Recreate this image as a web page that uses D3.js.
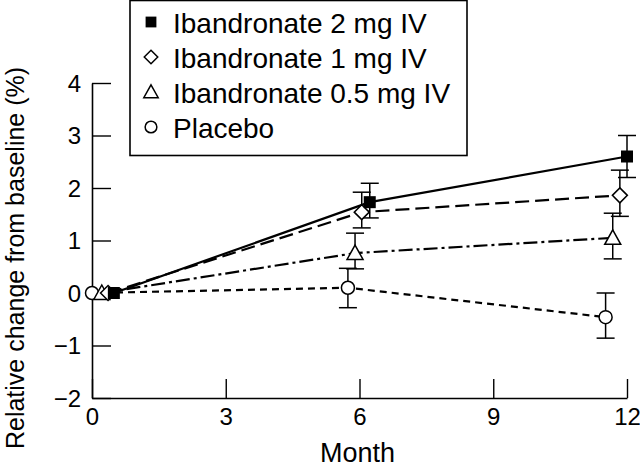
<!DOCTYPE html>
<html>
<head>
<meta charset="utf-8">
<script src="https://cdn.jsdelivr.net/npm/d3@7"></script>
<style>
  html, body { margin: 0; padding: 0; background: #fff; }
  svg { display: block; font-family: "Liberation Sans", Arial, sans-serif; }
</style>
</head>
<body>
<svg id="chart" width="640" height="469"></svg>
<script>
// ---- data ----
const seriesNames = ["Ibandronate 2 mg IV", "Ibandronate 1 mg IV", "Ibandronate 0.5 mg IV", "Placebo"];
const markerTypes = ["square", "diamond", "triangle", "circle"];
// plotted month positions (points are slightly offset for clarity)
const months2mg = [0.49, 6.23, 12.0];
const months1mg = [0.36, 6.05, 11.84];
const months05mg = [0.22, 5.9, 11.68];
const monthsPlacebo = [0.0, 5.74, 11.52];
const values2mg = [0, 1.73, 2.6];
const values1mg = [0, 1.54, 1.86];
const values05mg = [0, 0.76, 1.05];
const valuesPlacebo = [0, 0.1, -0.46];
// error bar ends (null = no error bar)
const errLow2mg = [null, 1.43, 2.2], errHigh2mg = [null, 2.09, 3.0];
const errLow1mg = [null, 1.24, 1.46], errHigh1mg = [null, 1.92, 2.34];
const errLow05mg = [null, 0.46, 0.65], errHigh05mg = [null, 1.14, 1.52];
const errLowPlacebo = [null, -0.28, -0.86], errHighPlacebo = [null, 0.47, 0.0];
const xTicks = [0, 3, 6, 9, 12];
const yTicks = [-2, -1, 0, 1, 2, 3, 4];
const xLabel = "Month";
const yLabel = "Relative change from baseline (%)";

const allMonths = [months2mg, months1mg, months05mg, monthsPlacebo];
const allValues = [values2mg, values1mg, values05mg, valuesPlacebo];
const allLow = [errLow2mg, errLow1mg, errLow05mg, errLowPlacebo];
const allHigh = [errHigh2mg, errHigh1mg, errHigh05mg, errHighPlacebo];
const dashes = [null, "14,6", "14,4,3,4", "7,5"];

const series = seriesNames.map((name, i) => ({
  name, marker: markerTypes[i], dash: dashes[i],
  points: allMonths[i].map((m, j) => ({ x: m, y: allValues[i][j], lo: allLow[i][j], hi: allHigh[i][j] }))
}));

// ---- layout ----
const svg = d3.select("#chart");
const x = d3.scaleLinear().domain([0, 12]).range([92, 627]);
const y = d3.scaleLinear().domain([-2, 4]).range([398, 83]);

// axes
const xAxis = d3.axisBottom(x).tickValues(xTicks).tickSizeInner(-19).tickSizeOuter(0).tickPadding(0).tickFormat(d3.format("d"));
const gx = svg.append("g").attr("transform", `translate(0,${y(-2)})`).call(xAxis);
gx.select(".domain").attr("stroke", "#000").attr("stroke-width", 1.6);
gx.selectAll(".tick line").attr("stroke", "#000").attr("stroke-width", 1.4);
gx.selectAll(".tick text").attr("font-size", 24).attr("fill", "#000").attr("dy", null).attr("y", 27);

const yAxis = d3.axisLeft(y).tickValues(yTicks).tickSizeInner(-19).tickSizeOuter(0).tickPadding(0)
  .tickFormat(d => d < 0 ? "\u2212" + Math.abs(d) : String(d));
const gy = svg.append("g").attr("transform", `translate(${x(0)},0)`).call(yAxis);
gy.select(".domain").attr("stroke", "#000").attr("stroke-width", 1.6);
gy.selectAll(".tick line").attr("stroke", "#000").attr("stroke-width", 1.4);
gy.selectAll(".tick text").attr("font-size", 24).attr("fill", "#000").attr("x", -11).attr("dy", "0.35em");

// axis titles
svg.append("text").attr("x", (x(0) + x(12)) / 2 - 2).attr("y", 462).attr("text-anchor", "middle")
  .attr("font-size", 27).attr("fill", "#000").text(xLabel);
svg.append("text").attr("transform", `translate(24,258) rotate(-90)`).attr("text-anchor", "middle")
  .attr("font-size", 25).attr("fill", "#000").text(yLabel);

// lines
const line = d3.line().x(d => x(d.x)).y(d => y(d.y));
series.forEach(s => {
  svg.append("path").datum(s.points).attr("d", line).attr("fill", "none")
    .attr("stroke", "#000").attr("stroke-width", 2.2)
    .attr("stroke-dasharray", s.dash);
});

// error bars
const capW = 9;
series.forEach(s => {
  s.points.filter(p => p.lo !== null).forEach(p => {
    const g = svg.append("g").attr("stroke", "#000").attr("stroke-width", 1.5);
    g.append("line").attr("x1", x(p.x)).attr("x2", x(p.x)).attr("y1", y(p.lo)).attr("y2", y(p.hi));
    g.append("line").attr("x1", x(p.x) - capW).attr("x2", x(p.x) + capW).attr("y1", y(p.lo)).attr("y2", y(p.lo));
    g.append("line").attr("x1", x(p.x) - capW).attr("x2", x(p.x) + capW).attr("y1", y(p.hi)).attr("y2", y(p.hi));
  });
});

// markers
function drawMarker(g, type, cx, cy, scale) {
  const k = scale || 1;
  if (type === "square") {
    g.append("rect").attr("x", cx - 6 * k).attr("y", cy - 6 * k).attr("width", 12 * k).attr("height", 12 * k)
      .attr("fill", "#000");
  } else if (type === "diamond") {
    const r = 7.5 * k;
    g.append("path").attr("d", `M${cx},${cy - r}L${cx + r},${cy}L${cx},${cy + r}L${cx - r},${cy}Z`)
      .attr("fill", "#fff").attr("stroke", "#000").attr("stroke-width", 1.5);
  } else if (type === "triangle") {
    const r = 8 * k;
    g.append("path").attr("d", `M${cx},${cy - r}L${cx + r},${cy + r * 0.8}L${cx - r},${cy + r * 0.8}Z`)
      .attr("fill", "#fff").attr("stroke", "#000").attr("stroke-width", 1.5);
  } else {
    g.append("circle").attr("cx", cx).attr("cy", cy).attr("r", 6.5 * k)
      .attr("fill", "#fff").attr("stroke", "#000").attr("stroke-width", 1.5);
  }
}
// draw placebo first so the 2 mg squares end on top at baseline
[3, 2, 1, 0].forEach(i => {
  const s = series[i];
  const g = svg.append("g");
  s.points.forEach(p => drawMarker(g, s.marker, x(p.x), y(p.y)));
});

// legend
const lg = svg.append("g");
lg.append("rect").attr("x", 130).attr("y", 0.5).attr("width", 337).attr("height", 155)
  .attr("fill", "#fff").attr("stroke", "#000").attr("stroke-width", 1.6);
series.forEach((s, i) => {
  const cy = 22 + i * 35;
  drawMarker(lg, s.marker, 151, cy, 0.9);
  lg.append("text").attr("x", 173).attr("y", cy + 11).attr("font-size", 28).attr("fill", "#000").text(s.name);
});
</script>
</body>
</html>
